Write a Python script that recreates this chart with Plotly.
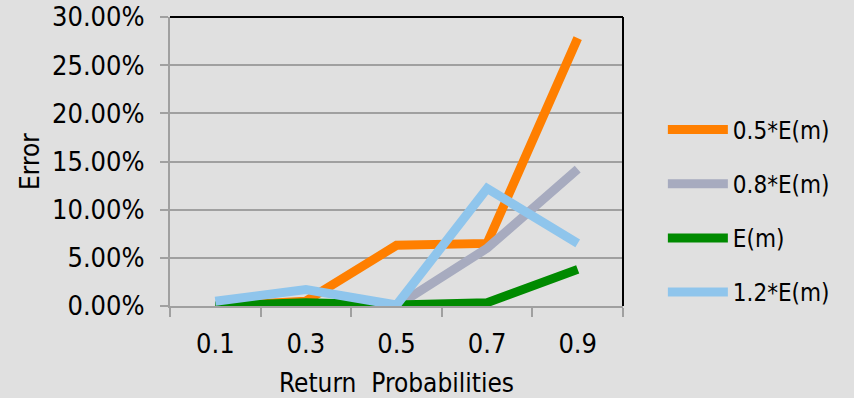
import plotly.graph_objects as go

# Return probabilities on the x axis and error rates per multiplier of E(m)
probabilities = ["0.1", "0.3", "0.5", "0.7", "0.9"]
err_half = [0.000, 0.005, 0.063, 0.065, 0.278]
err_08 = [0.000, 0.000, 0.000, 0.060, 0.142]
err_1 = [0.000, 0.0035, 0.001, 0.0035, 0.038]
err_12 = [0.005, 0.017, 0.001, 0.122, 0.065]

series = [
    ("0.5*E(m)", err_half, "#ff7f00"),
    ("0.8*E(m)", err_08, "#a7abbf"),
    ("E(m)", err_1, "#008a00"),
    ("1.2*E(m)", err_12, "#8fc5ec"),
]

BG = "#e0e0e0"
GRID = "#a0a0a0"
FONT = "Liberation Sans Narrow, DejaVu Sans Condensed, Liberation Sans"

fig = go.Figure()
for i, (name, vals, color) in enumerate(series):
    fig.add_trace(go.Scatter(
        x=probabilities, y=vals, name=name, mode="lines",
        line=dict(color=color, width=9),
        legendgroup=f"g{i}",
    ))

fig.update_layout(
    width=854, height=398,
    margin=dict(l=170, r=231, t=17, b=92, autoexpand=False),
    paper_bgcolor=BG, plot_bgcolor=BG,
    font=dict(family=FONT, size=27, color="#000000"),
    showlegend=True,
    legend=dict(
        x=1.088, xanchor="left", y=0.329, yanchor="middle",
        font=dict(family=FONT, size=24),
        tracegroupgap=20, traceorder="grouped",
        bgcolor="rgba(0,0,0,0)", itemwidth=60,
    ),
    xaxis=dict(
        type="category", tickson="boundaries", range=[-0.5, 4.5],
        automargin=False,
        ticks="outside", ticklen=9, tickcolor=GRID, tickwidth=2,
        ticklabelstandoff=13,
        showline=True, linecolor=GRID, linewidth=2,
        showgrid=False, zeroline=False,
        title=dict(text="Return  Probabilities", font=dict(size=26), standoff=16),
    ),
    yaxis=dict(
        range=[0, 0.30], dtick=0.05, tickformat=".2%",
        automargin=False,
        ticks="outside", ticklen=8, tickcolor=GRID, tickwidth=2,
        ticklabelstandoff=10,
        showline=True, linecolor=GRID, linewidth=2,
        showgrid=True, gridcolor=GRID, gridwidth=2,
        zeroline=False,
        title=dict(text="Error", font=dict(size=26), standoff=5),
    ),
)

# Black frame on top and right of the plotting area
fig.add_shape(type="line", xref="paper", yref="paper", x0=0, x1=1, y0=1, y1=1,
              line=dict(color="#000000", width=2))
fig.add_shape(type="line", xref="paper", yref="paper", x0=1, x1=1, y0=0, y1=1,
              line=dict(color="#000000", width=2))

fig.write_html("out.html")
